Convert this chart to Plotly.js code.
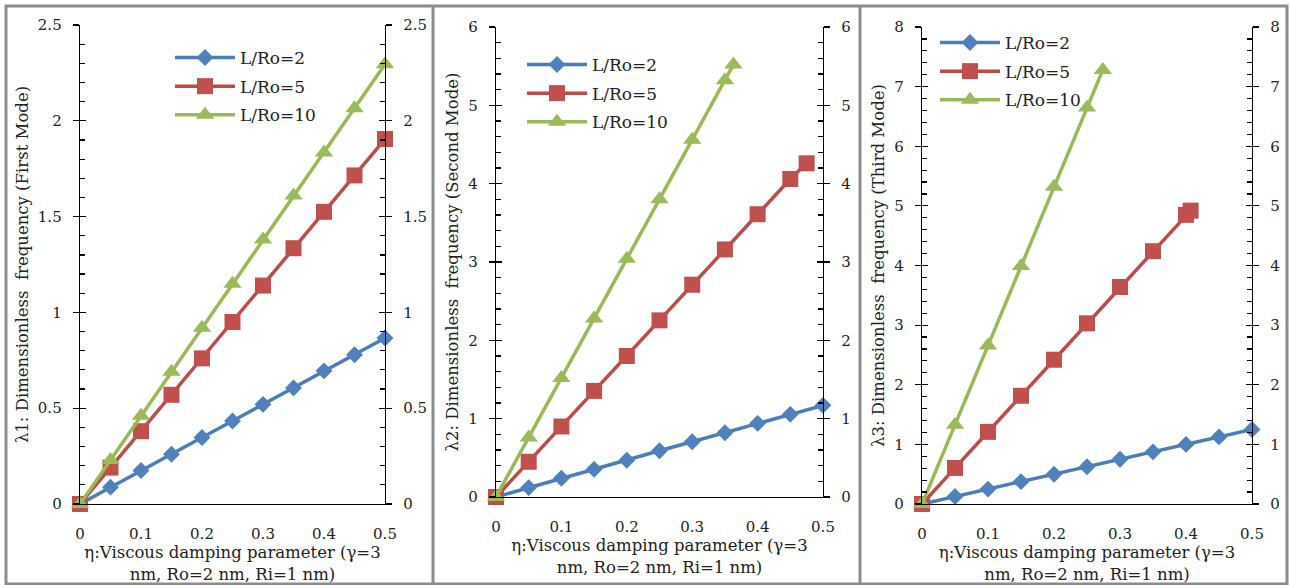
<!DOCTYPE html>
<html>
<head>
<meta charset="utf-8">
<script src="https://cdn.plot.ly/plotly-3.0.1.min.js"></script>
<style>html,body{margin:0;padding:0;background:#fff;}#chart{width:1290px;height:585px;}</style>
</head>
<body>
<div id="chart"></div>
<script>
// ---------- data ----------
const seriesNames = ["L/Ro=2", "L/Ro=5", "L/Ro=10"];
const eta = [0, 0.05, 0.1, 0.15, 0.2, 0.25, 0.3, 0.35, 0.4, 0.45, 0.5];

// First mode
const m1_L2 = [0, 0.088, 0.175, 0.26, 0.347, 0.433, 0.52, 0.606, 0.695, 0.779, 0.866];
const m1_L5 = [0, 0.19, 0.38, 0.57, 0.76, 0.95, 1.14, 1.335, 1.525, 1.715, 1.905];
const m1_L10 = [0, 0.23, 0.46, 0.69, 0.92, 1.15, 1.38, 1.61, 1.835, 2.065, 2.295];

// Second mode
const m2_L2 = [0, 0.12, 0.24, 0.355, 0.47, 0.59, 0.705, 0.82, 0.94, 1.055, 1.17];
const m2_L5_x = [0, 0.05, 0.1, 0.15, 0.2, 0.25, 0.3, 0.35, 0.4, 0.45, 0.475];
const m2_L5 = [0, 0.45, 0.9, 1.355, 1.8, 2.255, 2.71, 3.16, 3.61, 4.06, 4.26];
const m2_L10_x = [0, 0.05, 0.1, 0.15, 0.2, 0.25, 0.3, 0.35, 0.363];
const m2_L10 = [0, 0.76, 1.52, 2.28, 3.04, 3.80, 4.56, 5.32, 5.52];

// Third mode
const m3_L2 = [0, 0.125, 0.25, 0.375, 0.5, 0.625, 0.75, 0.875, 1.0, 1.125, 1.25];
const m3_L5_x = [0, 0.05, 0.1, 0.15, 0.2, 0.25, 0.3, 0.35, 0.4, 0.407];
const m3_L5 = [0, 0.605, 1.21, 1.815, 2.42, 3.03, 3.64, 4.24, 4.85, 4.92];
const m3_L10_x = [0, 0.05, 0.1, 0.15, 0.2, 0.25, 0.274];
const m3_L10 = [0, 1.33, 2.66, 3.99, 5.32, 6.65, 7.28];

const yTitles = [
  "λ1: Dimensionless\u00a0 frequency (First Mode)",
  "λ2: Dimensionless\u00a0 frequency (Second Mode)",
  "λ3: Dimensionless\u00a0 frequency (Third Mode)"
];
const xTitle = "η:Viscous damping parameter (γ=3<br>nm, Ro=2 nm, Ri=1 nm)";

const panelData = [
  [[eta, m1_L2], [eta, m1_L5], [eta, m1_L10]],
  [[eta, m2_L2], [m2_L5_x, m2_L5], [m2_L10_x, m2_L10]],
  [[eta, m3_L2], [m3_L5_x, m3_L5], [m3_L10_x, m3_L10]]
];
const yMax = [2.5, 6, 8];
const yDtick = [0.5, 1, 1];
const yMinor = [0.1, 0.2, 0.2];

// ---------- styling / layout ----------
const W = 1290, H = 585;
const px = v => v / W, py = v => 1 - v / H;
const panels = [
  {x0: 80, x1: 385, yt: 25, yb: 504, leg: [170, 40]},
  {x0: 496, x1: 823, yt: 27, yb: 497, leg: [522, 47]},
  {x0: 922, x1: 1252, yt: 27, yb: 504, leg: [935, 25]}
];
const colors = ["#4A7EBB", "#BE4B48", "#98B954"];
const fills = ["#4F81BD", "#C0504D", "#9BBB59"];
const symbols = ["diamond", "square", "triangle-up"];
const msizes = [13, 16, 16];
const FONT = "DejaVu Serif";
const tickFont = {family: FONT, size: 15, color: "#222"};
const titleFont = {family: FONT, size: 16.5, color: "#222"};

const traces = [];
const layout = {
  width: W, height: H,
  margin: {l: 0, r: 0, t: 0, b: 0},
  paper_bgcolor: "#fff", plot_bgcolor: "rgba(0,0,0,0)",
  showlegend: true,
  shapes: [],
  font: {family: FONT}
};

panels.forEach((p, i) => {
  const xid = i === 0 ? "x" : "x" + (i + 1);
  const xkey = i === 0 ? "xaxis" : "xaxis" + (i + 1);
  const base = i * 4;
  const yid = k => (base + k === 1 ? "y" : "y" + (base + k));
  const ykey = k => (base + k === 1 ? "yaxis" : "yaxis" + (base + k));
  const legKey = i === 0 ? "legend" : "legend" + (i + 1);
  const xdom = [px(p.x0), px(p.x1)];
  const ydom = [py(p.yb), py(p.yt)];
  const range = [0, yMax[i]];

  layout[xkey] = {
    domain: xdom, anchor: yid(1), range: [0, 0.5], dtick: 0.1,
    showline: true, linecolor: "#000", linewidth: 1.3, mirror: false,
    showgrid: false, zeroline: false, ticks: "",
    tickfont: tickFont, ticklabelstandoff: 16,
    title: {text: xTitle, font: titleFont, standoff: 2}
  };
  const common = {
    domain: ydom, anchor: xid, range: range, dtick: yDtick[i], tick0: 0,
    showgrid: false, zeroline: false, linecolor: "#000", linewidth: 1.3,
    tickcolor: "#000", tickwidth: 1.2
  };
  layout[ykey(1)] = Object.assign({}, common, {
    side: "left", showline: true, ticks: "outside", ticklen: 6,
    tickfont: tickFont, ticklabelstandoff: 8,
    title: {text: yTitles[i], font: titleFont, standoff: 5}
  });
  layout[ykey(2)] = Object.assign({}, common, {
    side: "left", overlaying: yid(1), showline: false, ticks: "inside", ticklen: 6,
    showticklabels: false,
    minor: {dtick: yMinor[i], ticks: "inside", ticklen: 5, tickcolor: "#000", tickwidth: 1.2}
  });
  layout[ykey(3)] = Object.assign({}, common, {
    side: "right", overlaying: yid(1), showline: true, ticks: "outside", ticklen: 6,
    tickfont: tickFont, ticklabelstandoff: 8
  });
  layout[ykey(4)] = Object.assign({}, common, {
    side: "right", overlaying: yid(1), showline: false, ticks: "inside", ticklen: 6,
    showticklabels: false,
    minor: {dtick: yMinor[i], ticks: "inside", ticklen: 5, tickcolor: "#000", tickwidth: 1.2}
  });

  layout[legKey] = {
    x: px(p.leg[0]), y: py(p.leg[1]), xanchor: "left", yanchor: "top",
    bgcolor: "rgba(255,255,255,0)", borderwidth: 0,
    font: {family: FONT, size: 17, color: "#222"},
    itemwidth: 60, traceorder: "grouped", tracegroupgap: 3.5
  };

  panelData[i].forEach((d, s) => {
    traces.push({
      type: "scatter", mode: "lines+markers",
      x: d[0], y: d[1], xaxis: xid, yaxis: yid(1),
      name: seriesNames[s], legend: legKey, legendgroup: "p" + i + "s" + s,
      cliponaxis: false,
      line: {color: colors[s], width: 3.5},
      marker: {symbol: symbols[s], size: msizes[s], color: fills[s], line: {width: 0}}
    });
  });
  [2, 3, 4].forEach(k => {
    traces.push({type: "scatter", mode: "markers", x: [], y: [], xaxis: xid, yaxis: yid(k),
      showlegend: false, hoverinfo: "skip"});
  });
});

const frameColor = "#8c8c8c";
layout.shapes.push({type: "rect", xref: "paper", yref: "paper", x0: px(6), x1: px(1287), y0: py(584), y1: py(6), line: {color: frameColor, width: 3}});
layout.shapes.push({type: "line", xref: "paper", yref: "paper", x0: px(433), x1: px(433), y0: py(584), y1: py(6), line: {color: frameColor, width: 3}});
layout.shapes.push({type: "line", xref: "paper", yref: "paper", x0: px(860), x1: px(860), y0: py(584), y1: py(6), line: {color: frameColor, width: 3}});

Plotly.newPlot("chart", traces, layout, {displayModeBar: false, staticPlot: true});
</script>
</body>
</html>
